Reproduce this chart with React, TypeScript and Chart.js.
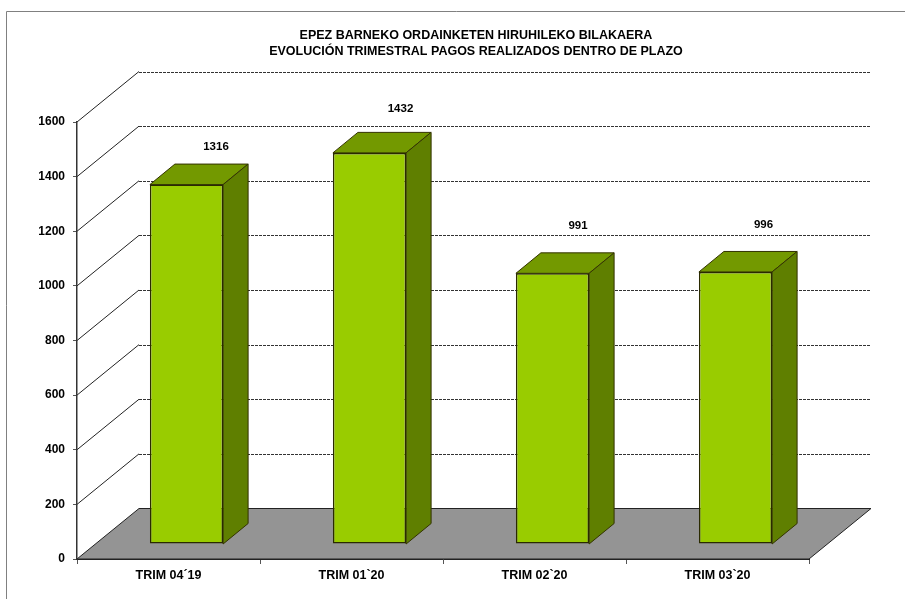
import React, { useEffect, useRef } from "react";
import { Chart, registerables } from "chart.js";

Chart.register(...registerables);

const categories = ["TRIM 04´19", "TRIM 01`20", "TRIM 02`20", "TRIM 03`20"];
const payments = [1316, 1432, 991, 996];
const titleLines = [
  "EPEZ BARNEKO ORDAINKETEN HIRUHILEKO BILAKAERA",
  "EVOLUCIÓN TRIMESTRAL PAGOS REALIZADOS DENTRO DE PLAZO",
];
const yMin = 0;
const yMax = 1600;
const yStep = 200;

// Presentation only: manual label nudges, as placed in the reference.
const labelNudgeX = [47.5, 49, 43.5, 46];
const labelNudgeY = [-53, -59, -63, -62.5];

const FONT = '"Liberation Sans", Arial, sans-serif';
const DEPTH_X = 62;
const DEPTH_Y = 50.5;
const BAR_SHIFT_X = 18;
const BAR_SHIFT_Y = -15;
const BAR_DEPTH_X = 25;
const BAR_DEPTH_Y = 20.5;

const scene3d = {
  id: "scene3d",
  afterLayout(chart: any) {
    // Reference title is centred at x = 476
    const t = chart.titleBlock;
    if (t) {
      t.right = 905;
      t.left = 476 * 2 - 905;
    }
  },
  beforeDraw(chart: any) {
    const { ctx, chartArea: a, scales } = chart;
    const y = scales.y;
    ctx.save();
    // outer frame
    ctx.strokeStyle = "#808080";
    ctx.lineWidth = 1;
    ctx.beginPath();
    ctx.moveTo(6.5, 600);
    ctx.lineTo(6.5, 11.5);
    ctx.lineTo(906, 11.5);
    ctx.stroke();
    // floor
    const base = y.getPixelForValue(yMin);
    ctx.beginPath();
    ctx.moveTo(a.left, base);
    ctx.lineTo(a.left + DEPTH_X, base - DEPTH_Y);
    ctx.lineTo(a.right + DEPTH_X, base - DEPTH_Y);
    ctx.lineTo(a.right, base);
    ctx.closePath();
    ctx.fillStyle = "#949494";
    ctx.fill();
    ctx.strokeStyle = "#222222";
    ctx.stroke();
    // wall lines
    for (const tick of y.ticks) {
      if (tick.value === yMin) continue;
      const py = y.getPixelForValue(tick.value);
      ctx.setLineDash([]);
      ctx.strokeStyle = "#222222";
      ctx.beginPath();
      ctx.moveTo(a.left, py);
      ctx.lineTo(a.left + DEPTH_X, py - DEPTH_Y);
      ctx.stroke();
      ctx.setLineDash([3, 1]);
      ctx.strokeStyle = "#333333";
      ctx.beginPath();
      const by = Math.round(py - DEPTH_Y) + 0.5;
      ctx.moveTo(a.left + DEPTH_X, by);
      ctx.lineTo(a.right + DEPTH_X, by);
      ctx.stroke();
    }
    ctx.restore();
  },
  beforeDatasetDraw(chart: any) {
    const { ctx } = chart;
    const meta = chart.getDatasetMeta(0);
    const base = chart.scales.y.getPixelForValue(yMin);
    ctx.save();
    ctx.translate(BAR_SHIFT_X, BAR_SHIFT_Y);
    ctx.lineWidth = 1;
    ctx.strokeStyle = "#333300";
    ctx.lineJoin = "round";
    for (const bar of meta.data) {
      const left = bar.x - bar.width / 2;
      const right = bar.x + bar.width / 2;
      // top face
      ctx.beginPath();
      ctx.moveTo(left, bar.y);
      ctx.lineTo(left + BAR_DEPTH_X, bar.y - BAR_DEPTH_Y);
      ctx.lineTo(right + BAR_DEPTH_X, bar.y - BAR_DEPTH_Y);
      ctx.lineTo(right, bar.y);
      ctx.closePath();
      ctx.fillStyle = "#739900";
      ctx.fill();
      ctx.stroke();
      // side face
      ctx.beginPath();
      ctx.moveTo(right, bar.y);
      ctx.lineTo(right + BAR_DEPTH_X, bar.y - BAR_DEPTH_Y);
      ctx.lineTo(right + BAR_DEPTH_X, base - BAR_DEPTH_Y);
      ctx.lineTo(right, base);
      ctx.closePath();
      ctx.fillStyle = "#5F7F00";
      ctx.fill();
      ctx.stroke();
    }
  },
  afterDatasetDraw(chart: any) {
    chart.ctx.restore();
  },
  afterDatasetsDraw(chart: any) {
    const { ctx } = chart;
    const meta = chart.getDatasetMeta(0);
    ctx.save();
    ctx.font = `bold 11.5px ${FONT}`;
    ctx.fillStyle = "#000000";
    ctx.textAlign = "center";
    ctx.textBaseline = "middle";
    meta.data.forEach((bar: any, i: number) => {
      ctx.fillText(String(payments[i]), bar.x + labelNudgeX[i], bar.y + labelNudgeY[i]);
    });
    ctx.restore();
  },
};

export default function App() {
  const ref = useRef<HTMLCanvasElement | null>(null);
  useEffect(() => {
    if (!ref.current) return;
    const chart = new Chart(ref.current, {
      type: "bar",
      data: {
        labels: categories,
        datasets: [
          {
            label: "Pagos",
            data: payments,
            backgroundColor: "#99CC00",
            borderColor: "#2A2A00",
            borderWidth: 1.5,
            borderSkipped: false,
            barPercentage: 0.4,
            categoryPercentage: 1,
            clip: false as any,
          },
        ],
      },
      options: {
        responsive: false,
        animation: false,
        layout: { padding: { top: 28, left: 38, right: 96, bottom: 12 } },
        plugins: {
          legend: { display: false },
          tooltip: { enabled: false },
          title: {
            display: true,
            text: titleLines,
            color: "#000000",
            font: { family: FONT, size: 12.5, weight: "bold", lineHeight: 1.28 },
            padding: { top: 0, bottom: 62 },
          },
        },
        scales: {
          x: {
            border: { color: "#222222", width: 1 },
            grid: { drawOnChartArea: false, drawTicks: true, tickLength: 5, color: "#555555" },
            ticks: {
              color: "#000000",
              padding: 4,
              maxRotation: 0,
              font: { family: FONT, size: 12.5, weight: "bold" },
            },
          },
          y: {
            min: yMin,
            max: yMax,
            afterFit(scale: any) {
              scale.width = 39;
            },
            border: { color: "#333333", width: 1.5 },
            grid: { drawOnChartArea: false, drawTicks: true, tickLength: 4, color: "#555555" },
            ticks: {
              stepSize: yStep,
              color: "#000000",
              padding: 8,
              font: { family: FONT, size: 12, weight: "bold" },
              callback: (v: any) => String(v),
            },
          },
        },
      },
      plugins: [scene3d as any],
    });
    return () => chart.destroy();
  }, []);
  return (
    <div style={{ position: "fixed", left: 0, top: 0, width: 905, height: 599, background: "#fff" }}>
      <canvas ref={ref} width={905} height={599} style={{ display: "block" }} />
    </div>
  );
}
